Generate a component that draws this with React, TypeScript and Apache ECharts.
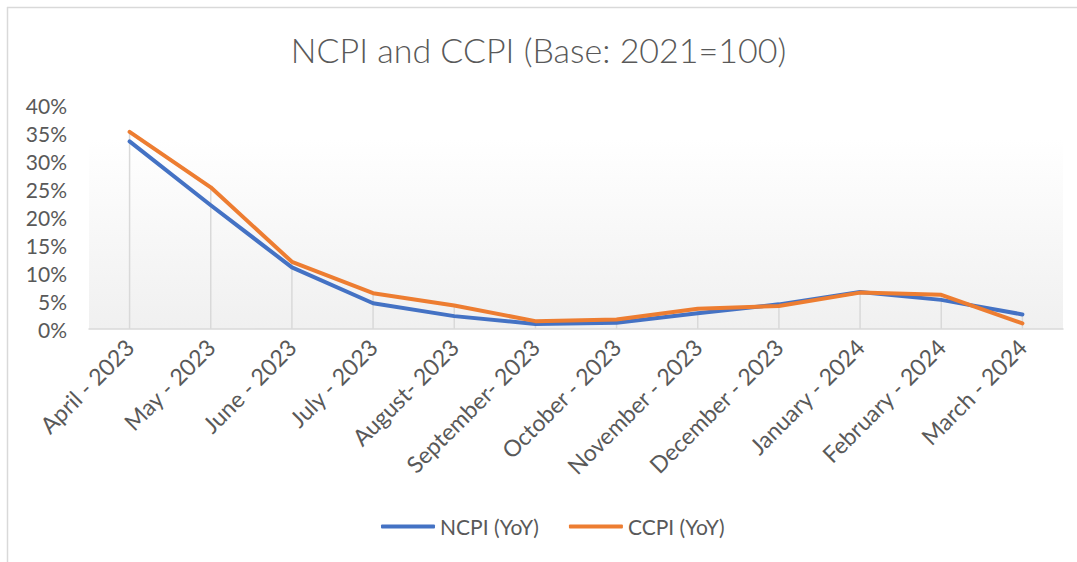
import React, { useEffect, useRef } from "react";
import * as echarts from "echarts";

const categories = [
  "April - 2023",
  "May - 2023",
  "June - 2023",
  "July - 2023",
  "August- 2023",
  "September- 2023",
  "October - 2023",
  "November - 2023",
  "December - 2023",
  "January - 2024",
  "February - 2024",
  "March - 2024",
];
const ncpi = [33.5, 22.1, 11.0, 4.6, 2.3, 0.9, 1.1, 2.8, 4.4, 6.6, 5.2, 2.6];
const ccpi = [35.2, 25.3, 12.0, 6.4, 4.2, 1.4, 1.7, 3.6, 4.1, 6.5, 6.1, 1.0];
const yTicks = [0, 5, 10, 15, 20, 25, 30, 35, 40];

const FONT = "Lato";
const TEXT = "#595959";

export default function App() {
  const ref = useRef<HTMLDivElement>(null);
  useEffect(() => {
    if (!ref.current) return;
    const chart = echarts.init(ref.current, undefined, { renderer: "svg" });
    const drop = ncpi.map((v, i) => Math.max(v, ccpi[i]));
    chart.setOption({
      animation: false,
      backgroundColor: "#ffffff",
      title: {
        text: "NCPI and CCPI (Base: 2021=100)",
        left: "center",
        top: 27,
        textStyle: { fontFamily: FONT, fontSize: 34, fontWeight: 300, color: TEXT },
      },
      legend: {
        data: ["NCPI (YoY)", "CCPI (YoY)"],
        bottom: 20,
        left: 376,
        itemWidth: 54,
        itemHeight: 4,
        itemGap: 30,
        icon: "roundRect",
        textStyle: { fontFamily: FONT, fontSize: 21, color: TEXT },
      },
      grid: {
        left: 89,
        right: 14,
        top: 105,
        bottom: 233,
        containLabel: false,
        show: true,
        borderWidth: 0,
        backgroundColor: {
          type: "linear",
          x: 0,
          y: 0,
          x2: 0,
          y2: 1,
          colorStops: [
            { offset: 0, color: "rgba(255,255,255,0)" },
            { offset: 0.15, color: "#ffffff" },
            { offset: 1, color: "#f0f0f0" },
          ],
        },
      },
      xAxis: {
        type: "category",
        data: categories,
        boundaryGap: true,
        axisLine: { lineStyle: { color: "#d9d9d9", width: 1.5 } },
        axisTick: { show: false },
        axisLabel: {
          rotate: 45,
          interval: 0,
          margin: 14,
          fontFamily: FONT,
          fontSize: 23,
          color: TEXT,
        },
      },
      yAxis: {
        type: "value",
        min: 0,
        max: 40,
        interval: 5,
        splitLine: { show: false },
        axisLine: { show: false },
        axisTick: { show: false },
        axisLabel: {
          margin: 22,
          fontFamily: FONT,
          fontSize: 21,
          color: TEXT,
          formatter: (v: number) => (yTicks.includes(v) ? `${v}%` : ""),
        },
      },
      graphic: [
        {
          type: "line",
          shape: { x1: 7.5, y1: 7, x2: 7.5, y2: 562 },
          style: { stroke: "#d9d9d9", lineWidth: 1.5 },
          silent: true,
        },
        {
          type: "line",
          shape: { x1: 7, y1: 7.5, x2: 1077, y2: 7.5 },
          style: { stroke: "#d9d9d9", lineWidth: 1.5 },
          silent: true,
        },
      ],
      series: [
        {
          name: "drop",
          type: "bar",
          data: drop,
          barWidth: 1.5,
          itemStyle: { color: "#d9d9d9" },
          silent: true,
          z: 1,
        },
        {
          name: "NCPI (YoY)",
          type: "line",
          data: ncpi,
          showSymbol: false,
          symbol: "none",
          lineStyle: { color: "#4472C4", width: 4, cap: "round", join: "round" },
          itemStyle: { color: "#4472C4" },
          z: 3,
        },
        {
          name: "CCPI (YoY)",
          type: "line",
          data: ccpi,
          showSymbol: false,
          symbol: "none",
          lineStyle: { color: "#ED7D31", width: 4, cap: "round", join: "round" },
          itemStyle: { color: "#ED7D31" },
          z: 4,
        },
      ],
    });
    return () => chart.dispose();
  }, []);
  return (
    <div
      ref={ref}
      style={{ position: "absolute", left: 0, top: 0, width: 1077, height: 562 }}
    />
  );
}
